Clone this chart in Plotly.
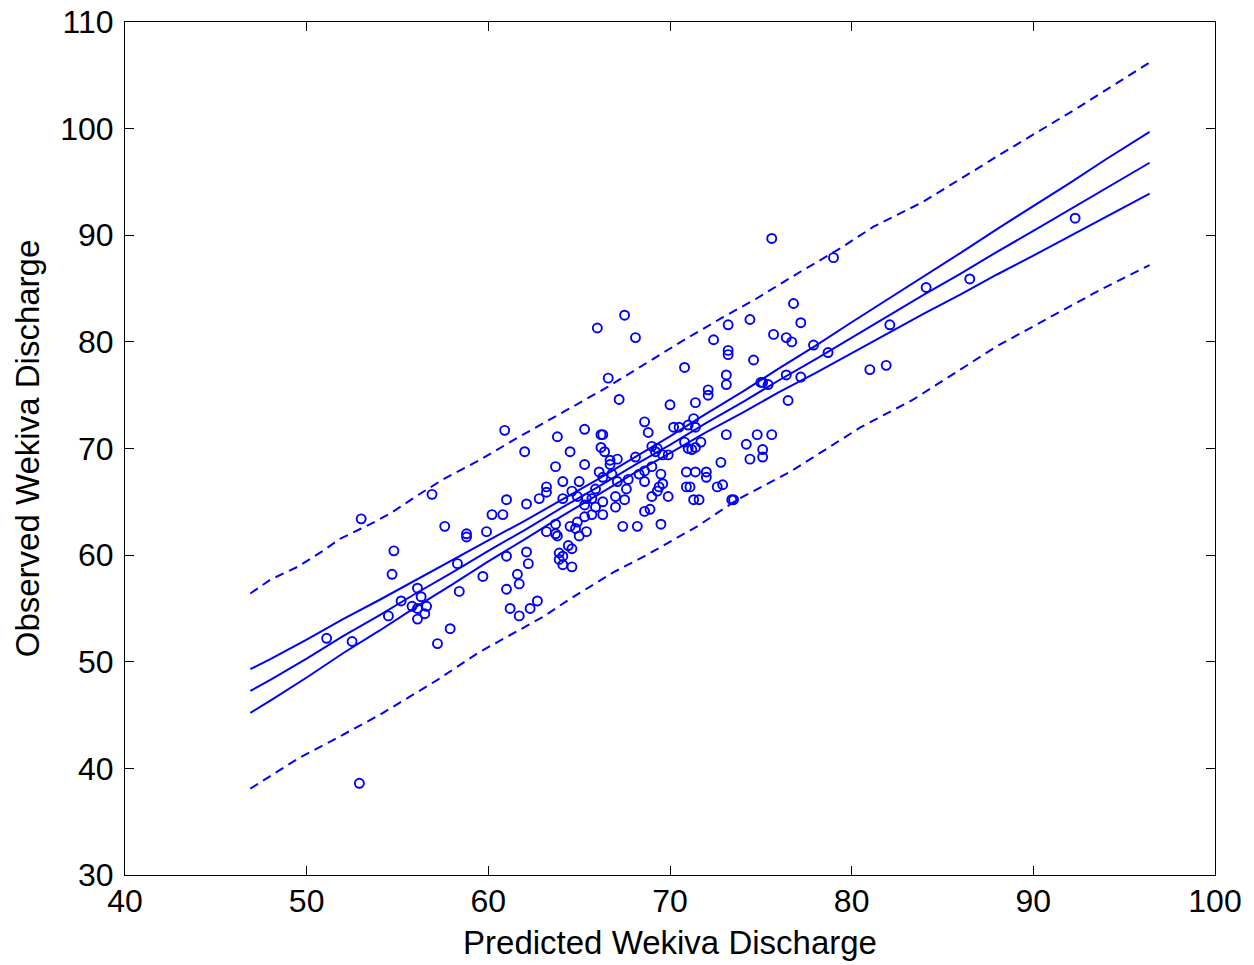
import plotly.graph_objects as go

# Observed vs predicted points
pred = [51.1, 52.5, 52.9, 53.0, 54.5, 54.7, 54.8, 55.2, 55.8, 56.1, 56.1, 56.1, 56.3, 56.5, 56.6,
        56.9, 57.2, 57.6, 57.9, 58.3, 58.4, 58.8, 58.8, 59.7, 59.9, 60.2, 60.8, 60.9, 61.0, 61.0,
        61.0, 61.2, 61.6, 61.7, 61.7, 62.0, 62.1, 62.1, 62.2, 62.3, 62.7, 62.8, 63.2, 63.2, 63.2,
        63.7, 63.7, 63.7, 63.8, 63.8, 63.9, 64.1, 63.9, 64.1, 64.1, 64.1, 64.4, 64.5, 64.5, 64.6,
        64.6, 64.6, 64.8, 64.9, 64.9, 65.0, 65.0, 65.3, 65.3, 65.3, 65.3, 65.4, 65.4, 65.7, 65.7,
        65.9, 65.9, 66.0, 66.2, 66.3, 66.2, 66.1, 66.3, 66.3, 66.3, 66.4, 66.6, 66.7, 66.7, 66.8,
        67.0, 67.0, 67.1, 67.1, 67.2, 67.4, 67.5, 67.5, 67.7, 67.6, 68.1, 68.1, 68.2, 68.3, 68.6,
        68.6, 68.6, 68.6, 68.8, 68.9, 69.0, 69.0, 69.0, 69.2, 69.3, 69.3, 69.4, 69.5, 69.5, 69.6,
        69.6, 69.9, 69.9, 70.0, 70.2, 70.5, 70.8, 70.8, 70.9, 70.9, 71.0, 71.0, 71.1, 71.2, 71.3,
        71.3, 71.4, 71.4, 71.4, 71.4, 71.6, 71.7, 72.0, 72.0, 72.1, 72.1, 72.4, 72.6, 72.8, 72.9,
        73.1, 73.1, 73.1, 73.2, 73.2, 73.2, 73.4, 73.5, 74.2, 74.4, 74.4, 74.6, 74.8, 75.0, 75.1,
        75.1, 75.1, 75.4, 75.6, 75.6, 75.7, 76.4, 76.4, 76.7, 76.5, 76.8, 77.2, 77.2, 77.9, 78.7,
        79.0, 81.0, 81.9, 82.1, 84.1, 86.5, 92.3]
obs = [52.2, 51.9, 38.6, 63.4, 54.3, 58.2, 60.4, 55.7, 55.2, 56.9, 55.0, 54.0, 56.1, 54.5, 55.2,
       65.7, 51.7, 62.7, 53.1, 59.2, 56.6, 62.0, 61.7, 58.0, 62.2, 63.8, 63.8, 71.7, 65.2, 59.9,
       56.8, 55.0, 58.2, 57.3, 54.3, 69.7, 64.8, 60.3, 59.2, 55.0, 55.7, 65.3, 66.4, 65.9, 62.2,
       68.3, 62.9, 62.0, 71.1, 61.8, 60.2, 59.9, 59.6, 59.1, 66.9, 65.3, 60.9, 62.7, 69.7, 66.0,
       60.6, 58.9, 62.5, 65.5, 63.1, 66.9, 61.8, 71.8, 68.5, 64.7, 63.6, 62.2, 65.3, 65.3, 63.8,
       66.2, 64.5, 81.3, 71.3, 71.3, 70.1, 67.8, 65.0, 63.8, 67.3, 69.7, 76.6, 68.9, 68.5, 67.6,
       65.5, 64.5, 66.9, 69.0, 74.6, 62.7, 82.5, 65.2, 67.1, 66.2, 80.4, 69.2, 62.7, 67.6, 72.5,
       67.9, 66.9, 64.1, 71.5, 64.3, 70.2, 68.3, 65.5, 69.7, 70.0, 66.0, 66.4, 67.6, 62.9, 66.7,
       69.4, 65.5, 69.4, 74.1, 72.0, 72.0, 77.6, 70.6, 67.8, 66.4, 72.2, 70.0, 66.4, 69.9, 72.8,
       65.2, 70.1, 74.3, 72.0, 67.8, 65.2, 70.6, 67.8, 67.3, 75.5, 75.0, 80.2, 66.4, 68.7, 66.6,
       76.9, 76.0, 71.3, 81.6, 79.2, 78.8, 65.2, 65.2, 70.4, 82.1, 69.0, 78.3, 71.3, 76.2, 76.2,
       69.9, 69.2, 76.0, 89.7, 71.3, 80.7, 80.4, 76.9, 80.0, 74.5, 83.6, 81.8, 76.7, 79.7, 79.0,
       87.9, 77.4, 77.8, 81.6, 85.1, 85.9, 91.6]

# Fitted line and confidence band (solid)
fit_x = [46.9, 48, 50, 52, 54, 56, 58, 60, 62, 64, 66, 68, 70, 72, 74, 76, 78, 80, 82, 84,
         86, 88, 90, 92, 94, 96.4]
fit_y = [47.26, 48.3, 50.3, 52.4, 54.35, 56.4, 58.35, 60.4, 62.35, 64.4, 66.35, 68.4, 70.35,
         72.4, 74.35, 76.4, 78.35, 80.4, 82.4, 84.45, 86.4, 88.45, 90.4, 92.4, 94.45, 96.8]
ci_upper = [49.31, 50.25, 52.08, 54.0, 55.79, 57.67, 59.47, 61.38, 63.22, 65.18, 67.08, 69.13,
            71.13, 73.27, 75.33, 77.52, 79.62, 81.84, 84.0, 86.23, 88.35, 90.58, 92.71, 94.89,
            97.13, 99.7]
ci_lower = [45.21, 46.35, 48.52, 50.8, 52.91, 55.13, 57.23, 59.42, 61.48, 63.62, 65.62, 67.67,
            69.57, 71.53, 73.37, 75.28, 77.08, 78.96, 80.8, 82.67, 84.45, 86.32, 88.09, 89.91,
            91.77, 93.9]

# Prediction band (dashed)
pi_up_x = [46.9, 48.0, 49.5, 50.9, 51.8, 53.5, 54.6, 56.1, 57.5, 59.5, 61.7, 64.0, 66.5, 70.6,
           72.8, 74.6, 77.2, 79.4, 81.2, 83.9, 88.2, 92.3, 96.4]
pi_up_y = [56.4, 57.7, 58.9, 60.4, 61.5, 62.9, 63.9, 65.6, 67.1, 68.9, 71.1, 73.3, 75.7, 80.0,
           82.2, 83.9, 86.6, 88.8, 90.8, 93.1, 97.6, 101.8, 106.2]
pi_lo_x = [46.9, 49.6, 51.5, 54.0, 57.2, 59.5, 63.0, 64.5, 66.9, 68.7, 71.5, 73.7, 76.6, 80.5,
           83.4, 88.0, 93.7, 96.4]
pi_lo_y = [38.1, 41.0, 42.7, 45.0, 48.3, 50.9, 54.2, 55.9, 58.4, 60.0, 62.7, 65.2, 67.8, 72.0,
           74.6, 79.6, 84.9, 87.2]

x_ticks = [40, 50, 60, 70, 80, 90, 100]
y_ticks = [30, 40, 50, 60, 70, 80, 90, 100, 110]

BLUE = "#0000ff"
FONT = "Liberation Sans, Arial, sans-serif"

fig = go.Figure()
fig.add_trace(go.Scatter(x=pred, y=obs, mode="markers",
                         marker=dict(symbol="circle-open", size=9, color=BLUE,
                                     line=dict(width=1.9, color=BLUE))))
for yy in (ci_upper, fit_y, ci_lower):
    fig.add_trace(go.Scatter(x=fit_x, y=yy, mode="lines",
                             line=dict(color=BLUE, width=2)))
fig.add_trace(go.Scatter(x=pi_up_x, y=pi_up_y, mode="lines",
                         line=dict(color=BLUE, width=2, dash="9px,6px")))
fig.add_trace(go.Scatter(x=pi_lo_x, y=pi_lo_y, mode="lines",
                         line=dict(color=BLUE, width=2, dash="9px,6px")))

axis_common = dict(showline=True, linecolor="black", linewidth=1, mirror="ticks",
                   ticks="inside", ticklen=9, tickwidth=1, tickcolor="black",
                   showgrid=False, zeroline=False, automargin=False,
                   tickfont=dict(family=FONT, size=32, color="black"))

fig.update_layout(
    width=1254, height=965,
    margin=dict(l=125, r=39, t=22, b=90),
    paper_bgcolor="white", plot_bgcolor="white",
    showlegend=False,
    xaxis=dict(range=[40, 100], tickvals=x_ticks, ticktext=[str(v) for v in x_ticks],
               ticklabelstandoff=-2,
               title=dict(text="Predicted Wekiva Discharge", standoff=12,
                          font=dict(family=FONT, size=33, color="black")),
               **axis_common),
    yaxis=dict(range=[30, 110], tickvals=y_ticks, ticktext=[str(v) for v in y_ticks],
               ticklabelstandoff=4,
               title=dict(text="Observed Wekiva Discharge", standoff=10,
                          font=dict(family=FONT, size=33, color="black")),
               **axis_common),
)

fig.write_html("out.html")
